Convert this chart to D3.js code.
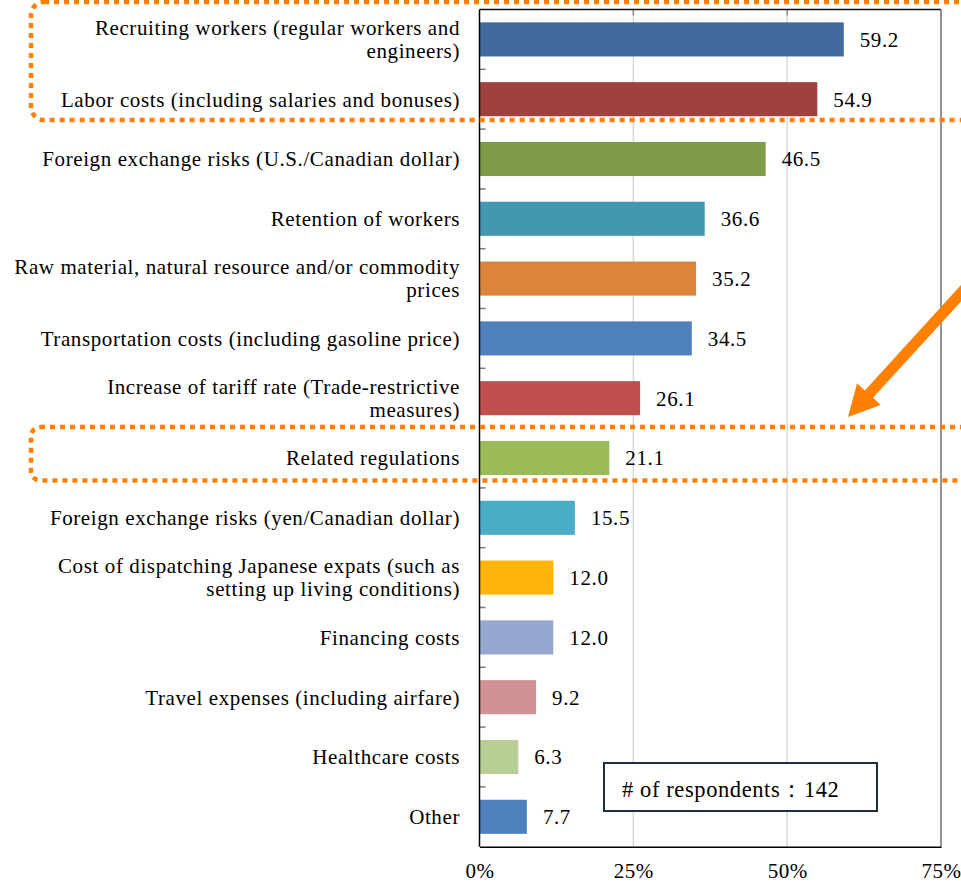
<!DOCTYPE html>
<html>
<head>
<meta charset="utf-8">
<script src="https://cdn.jsdelivr.net/npm/d3@7/dist/d3.min.js"></script>
<style>
  html, body { margin: 0; padding: 0; background: #fff; }
  svg { display: block; }
  text { font-family: "Liberation Serif", "Times New Roman", serif; fill: #000; }
</style>
</head>
<body>
<svg id="chart" width="961" height="883"></svg>
<script>
// Concerns about operating costs, share of respondents (%)
const categories = [
  "Recruiting workers (regular workers and\nengineers)",
  "Labor costs (including salaries and bonuses)",
  "Foreign exchange risks (U.S./Canadian dollar)",
  "Retention of workers",
  "Raw material, natural resource and/or commodity\nprices",
  "Transportation costs (including gasoline price)",
  "Increase of tariff rate (Trade-restrictive\nmeasures)",
  "Related regulations",
  "Foreign exchange risks (yen/Canadian dollar)",
  "Cost of dispatching Japanese expats (such as\nsetting up living conditions)",
  "Financing costs",
  "Travel expenses (including airfare)",
  "Healthcare costs",
  "Other"
];
const values = [59.2, 54.9, 46.5, 36.6, 35.2, 34.5, 26.1, 21.1, 15.5, 12.0, 12.0, 9.2, 6.3, 7.7];
const barColors = [
  "#41699b", "#9e413f", "#7f9a48", "#4298b0", "#dc843c", "#4f81bd", "#c0504d",
  "#9bbb59", "#4bacc6", "#ffb50b", "#95a8cf", "#d09292", "#b7cf94", "#4f81bd"
];
const xTicks = [0, 25, 50, 75];
const respondents = 142;

const svg = d3.select("#chart");
const plot = { left: 479.5, right: 941, top: 9.5, bottom: 846.7 };

const x = d3.scaleLinear().domain([0, 75]).range([plot.left, plot.right]);
const y = d3.scaleBand().domain(categories)
  .range([plot.top, plot.bottom])
  .paddingInner(0.43).paddingOuter(0.215);
const step = y.step();

// gridlines
svg.append("g").selectAll("line").data(xTicks.filter(t => t > 0 && t < 75)).join("line")
  .attr("x1", d => x(d)).attr("x2", d => x(d))
  .attr("y1", plot.top).attr("y2", plot.bottom)
  .attr("stroke", "#d9d9d9").attr("stroke-width", 1.5);

// small ticks along the top edge
svg.append("g").selectAll("line").data(xTicks.filter(t => t > 0 && t < 75)).join("line")
  .attr("x1", d => x(d)).attr("x2", d => x(d))
  .attr("y1", plot.top).attr("y2", plot.top + 6)
  .attr("stroke", "#8c8c8c").attr("stroke-width", 1.5);

// bars
svg.append("g").selectAll("rect").data(categories).join("rect")
  .attr("x", x(0))
  .attr("y", d => y(d))
  .attr("width", (d, i) => x(values[i]) - x(0))
  .attr("height", y.bandwidth())
  .attr("fill", (d, i) => barColors[i]);

// frame
svg.append("line").attr("x1", plot.left).attr("x2", plot.right).attr("y1", plot.top).attr("y2", plot.top)
  .attr("stroke", "#111").attr("stroke-width", 1.5);
svg.append("line").attr("x1", plot.right).attr("x2", plot.right).attr("y1", plot.top).attr("y2", plot.bottom)
  .attr("stroke", "#6e6e6e").attr("stroke-width", 1.5);

// category separators on the left axis
const bounds = d3.range(1, categories.length).map(k => plot.top + k * step);
svg.append("g").selectAll("line").data(bounds).join("line")
  .attr("x1", plot.left).attr("x2", plot.left + 6)
  .attr("y1", d => d).attr("y2", d => d)
  .attr("stroke", "#7a7a7a").attr("stroke-width", 1.5);

svg.append("line").attr("x1", plot.left).attr("x2", plot.left).attr("y1", plot.top).attr("y2", plot.bottom)
  .attr("stroke", "#000").attr("stroke-width", 1.5);

// x axis
const xAxis = svg.append("g")
  .attr("transform", `translate(0,${plot.bottom})`)
  .call(d3.axisBottom(x).tickValues(xTicks).tickSize(0).tickPadding(16).tickFormat(d => d + "%"));
xAxis.select(".domain").attr("stroke", "#000").attr("stroke-width", 1.5);
xAxis.selectAll("text")
  .attr("font-family", "Liberation Serif, Times New Roman, serif")
  .attr("font-size", 21).attr("letter-spacing", 0.5).attr("fill", "#000");

// category labels
const lineH = 23;
const labels = svg.append("g").selectAll("text").data(categories).join("text")
  .attr("text-anchor", "end")
  .attr("font-size", 21)
  .attr("letter-spacing", 0.6);
labels.each(function(d) {
  const lines = d.split("\n");
  const cy = y(d) + y.bandwidth() / 2;
  const t = d3.select(this);
  lines.forEach((ln, i) => {
    t.append("tspan")
      .attr("x", plot.left - 19.5)
      .attr("y", cy + (i - (lines.length - 1) / 2) * lineH + 7.3)
      .text(ln);
  });
});

// value labels
svg.append("g").selectAll("text").data(categories).join("text")
  .attr("x", (d, i) => x(values[i]) + 16)
  .attr("y", d => y(d) + y.bandwidth() / 2 + 7.3)
  .attr("font-size", 21)
  .attr("letter-spacing", 0.6)
  .text((d, i) => values[i].toFixed(1));

// respondents box
const note = svg.append("g");
note.append("rect").attr("x", 604).attr("y", 763).attr("width", 273).attr("height", 48)
  .attr("fill", "#fff").attr("stroke", "#1f2d3d").attr("stroke-width", 2);
note.append("text").attr("x", 622).attr("y", 796.5).attr("font-size", 22.5).attr("letter-spacing", 0.6)
  .text("# of respondents：" + respondents);

// highlight frames (dotted orange)
const orange = "#ff8000";
function dottedBox(top, bottom, r) {
  svg.append("rect")
    .attr("x", 31).attr("y", top)
    .attr("width", 1000).attr("height", bottom - top)
    .attr("rx", r).attr("ry", r)
    .attr("fill", "none").attr("stroke", orange)
    .attr("stroke-width", 4.5).attr("stroke-dasharray", "5 5");
}
dottedBox(plot.top - 7.5, plot.top + 2 * step - 9, 13);
dottedBox(plot.top + 7 * step - 1, plot.top + 8 * step - 7.5, 9);

// arrow pointing at the regulations row
const tip = [848, 417];
const dir = [0.674, -0.738];
const nrm = [0.738, 0.674];
const headLen = 31, headHalf = 16, shaftHalf = 5.5, tailLen = 260;
const at = (t, s) => [tip[0] + dir[0] * t + nrm[0] * s, tip[1] + dir[1] * t + nrm[1] * s];
const arrowPts = [
  tip, at(headLen, headHalf), at(headLen, shaftHalf), at(tailLen, shaftHalf),
  at(tailLen, -shaftHalf), at(headLen, -shaftHalf), at(headLen, -headHalf)
];
svg.append("path").attr("d", d3.line()(arrowPts) + "Z").attr("fill", orange);
</script>
</body>
</html>
